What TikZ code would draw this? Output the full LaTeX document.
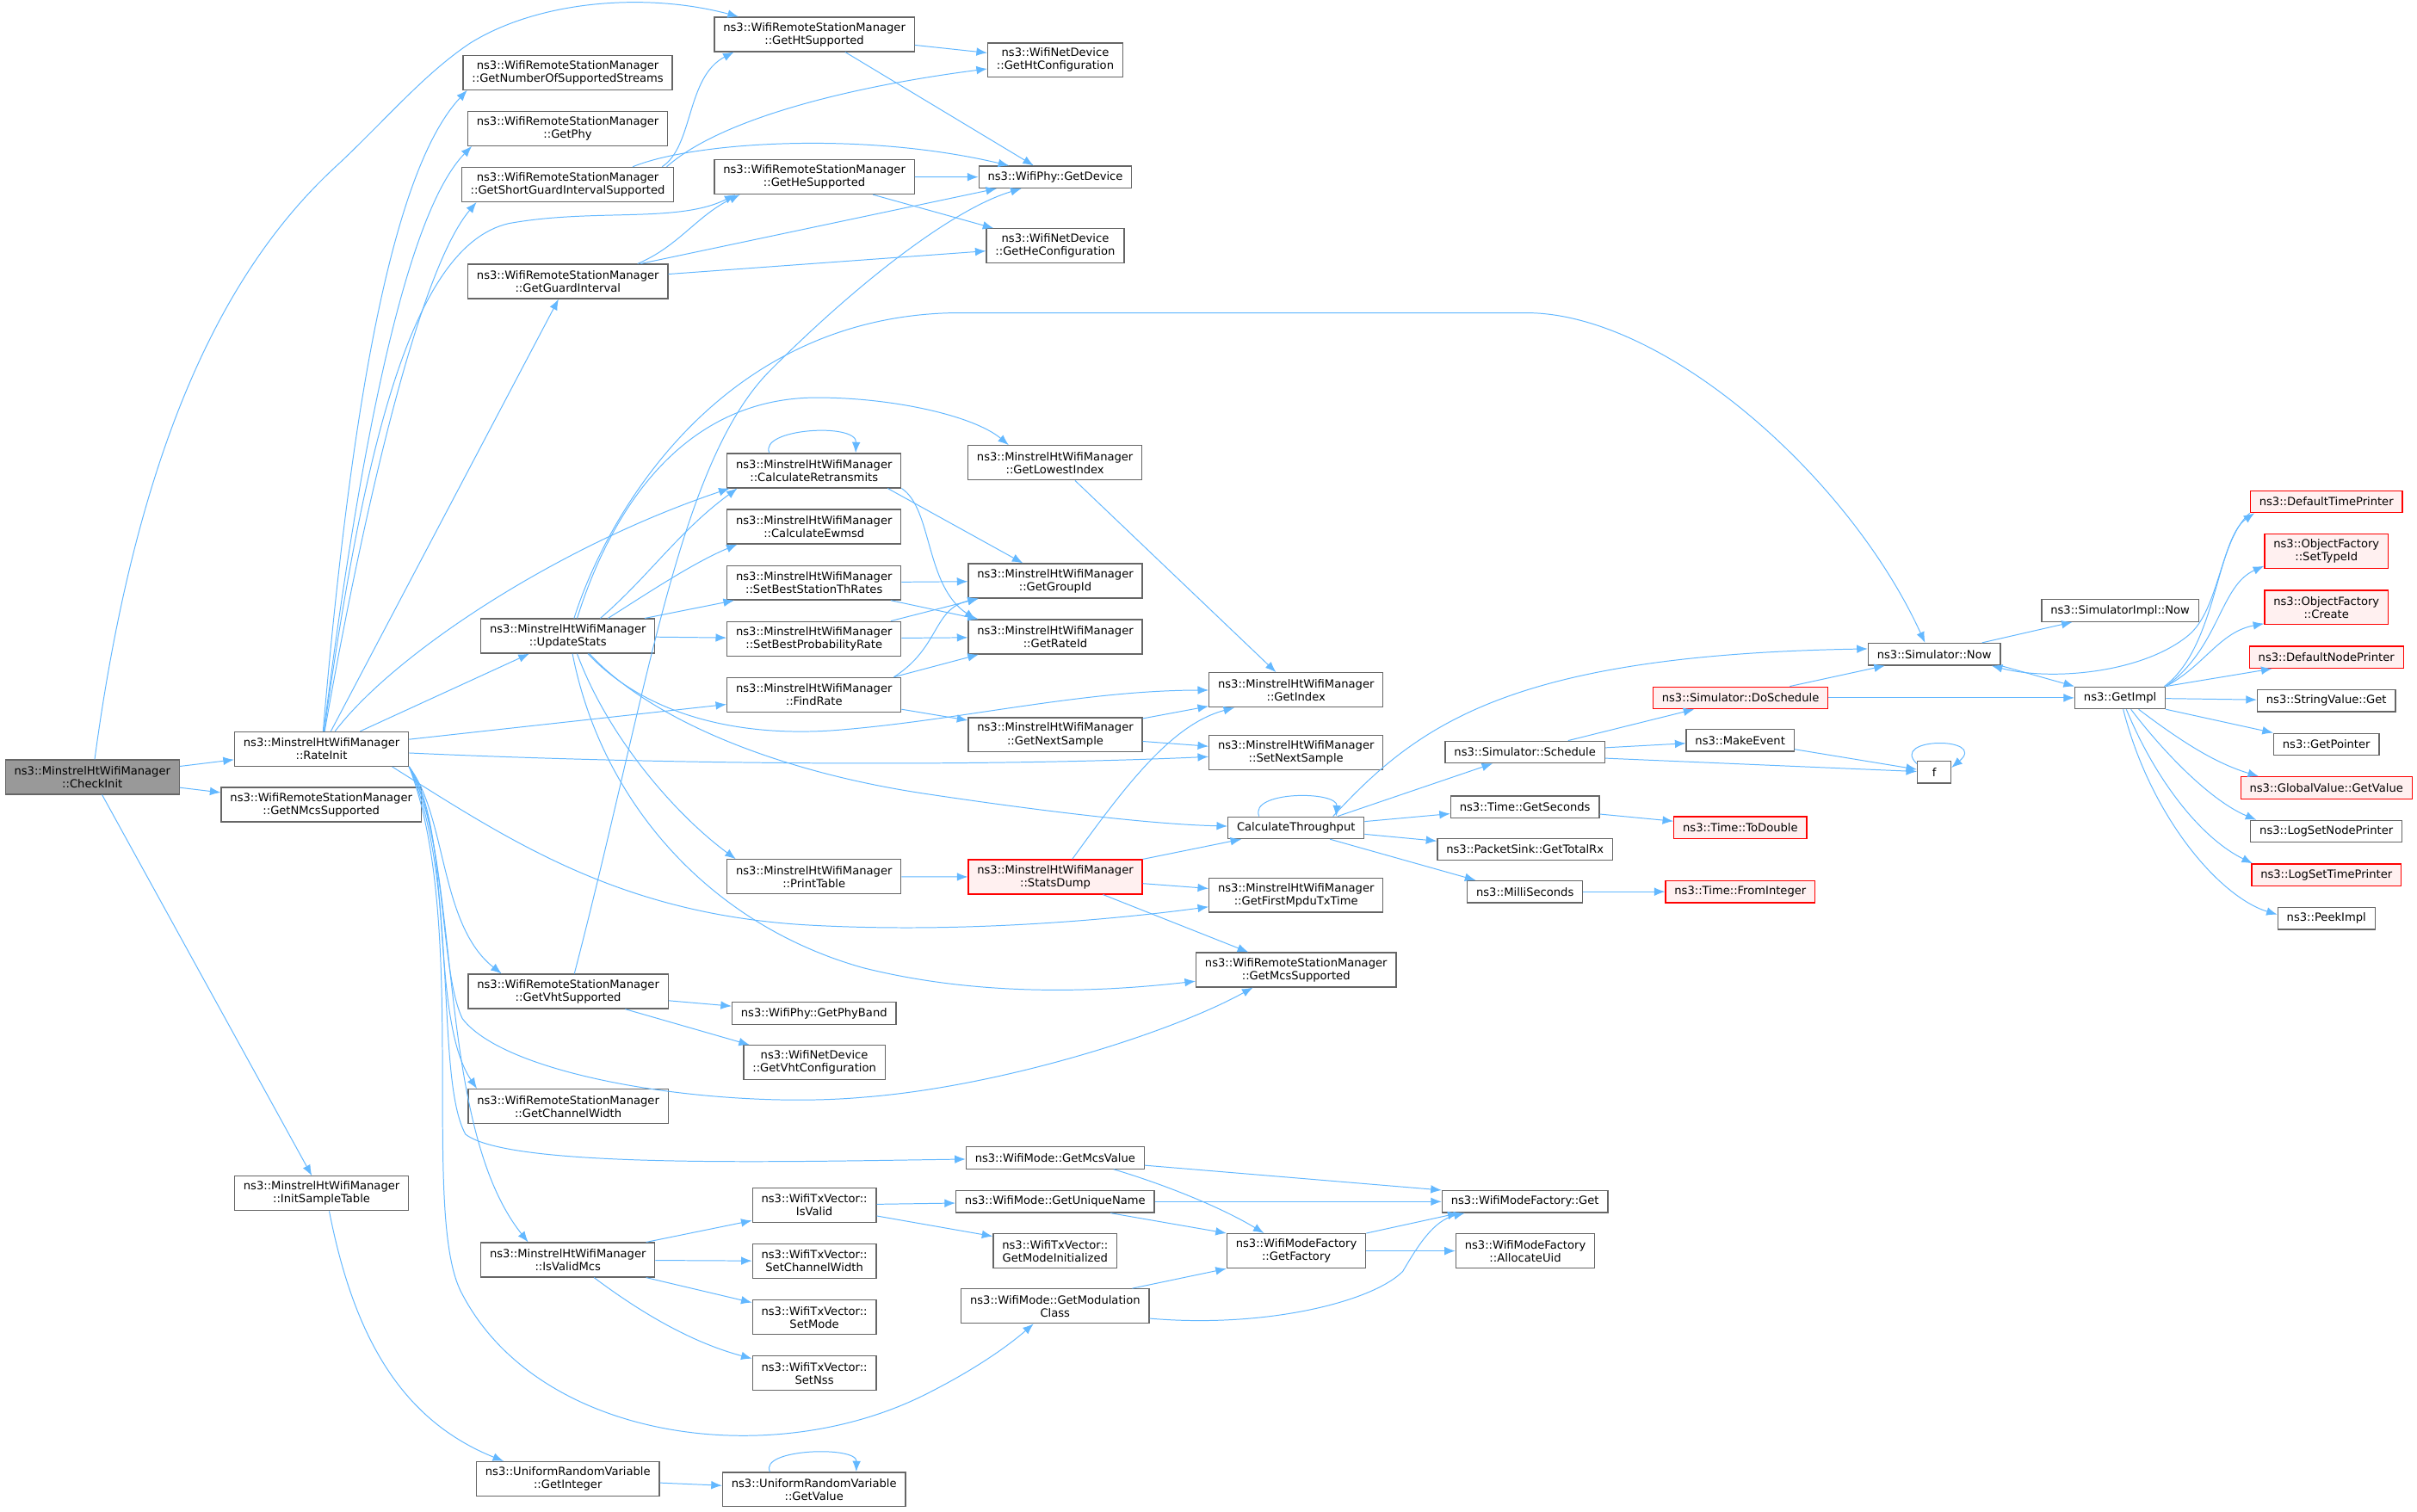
\documentclass[tikz,border=0pt]{standalone}
\usepackage{fontspec}
\setmainfont{DejaVu Sans}
\usetikzlibrary{arrows.meta, positioning}
\definecolor{edgeblue}{RGB}{99,184,255}
\definecolor{boxgray}{RGB}{102,102,102}
\definecolor{rootgray}{RGB}{153,153,153}
\definecolor{redfill}{RGB}{255,240,240}
\tikzstyle{block} = [rectangle, 
			draw = boxgray, 
			line width = 0.7pt, 
			fill = white, 
			align = center, 
			font = \fontsize{7.32}{8.38}\selectfont, 
			inner xsep = 5.8pt, 
			inner ysep = 1pt, 
			minimum height = 14.2pt]
\tikzstyle{twoline} = [minimum height = 22.3pt]
\tikzstyle{redblock} = [block, 
			draw = red, 
			fill = redfill]
\tikzstyle{rootblock} = [block, 
			fill = rootgray]
\tikzstyle{line} = [draw, edgeblue, line width = 0.55pt, -{Latex[length=7pt, width=5.4pt]}]

\begin{document}
\begin{tikzpicture}[x = 1pt, y = 1pt, node distance = 13.35pt, auto]
	\useasboundingbox (0,0) rectangle (1568,-980.6);
	\fill [white] (0,0) rectangle (1568,-980.6);
	\node [rootblock, twoline] (checkInit) at (59.9,-504.2) {ns3::MinstrelHtWifiManager\\::CheckInit};
	\node [block, twoline] (rateInit) at (208.6,-486.0) {ns3::MinstrelHtWifiManager\\::RateInit};
	\node [block, twoline] (getNMcs) at (208.4,-522.1) {ns3::WifiRemoteStationManager\\::GetNMcsSupported};
	\node [block, twoline] (initSample) at (208.6,-774.4) {ns3::MinstrelHtWifiManager\\::InitSampleTable};
	\node [block, twoline] (getHtSupported) at (528.3,-22.3) {ns3::WifiRemoteStationManager\\::GetHtSupported};
	\node [block, twoline] (getNumStreams) at (368.3,-47.0) {ns3::WifiRemoteStationManager\\::GetNumberOfSupportedStreams};
	\node [block, twoline, below=of getNumStreams] (getPhy) {ns3::WifiRemoteStationManager\\::GetPhy};
	\node [block, twoline, below=of getPhy] (shortGI) {ns3::WifiRemoteStationManager\\::GetShortGuardIntervalSupported};
	\node [block, twoline] (getHeSupported) at (528.3,-114.8) {ns3::WifiRemoteStationManager\\::GetHeSupported};
	\node [block, twoline] (getGuardInterval) at (368.4,-182.6) {ns3::WifiRemoteStationManager\\::GetGuardInterval};
	\node [block, twoline] (getHtConfig) at (684.6,-39.0) {ns3::WifiNetDevice\\::GetHtConfiguration};
	\node [block] (getDevice) at (684.6,-114.9) {ns3::WifiPhy::GetDevice};
	\node [block, twoline] (getHeConfig) at (684.6,-159.6) {ns3::WifiNetDevice\\::GetHeConfiguration};
	\node [block, twoline] (calcRetransmits) at (528.1,-305.4) {ns3::MinstrelHtWifiManager\\::CalculateRetransmits};
	\node [block, twoline, below=of calcRetransmits] (calcEwmsd) {ns3::MinstrelHtWifiManager\\::CalculateEwmsd};
	\node [block, twoline, below=of calcEwmsd] (setBestStation) {ns3::MinstrelHtWifiManager\\::SetBestStationThRates};
	\node [block, twoline, below=of setBestStation] (setBestProb) {ns3::MinstrelHtWifiManager\\::SetBestProbabilityRate};
	\node [block, twoline, below=of setBestProb] (findRate) {ns3::MinstrelHtWifiManager\\::FindRate};
	\node [block, twoline] (updateStats) at (368.4,-412.7) {ns3::MinstrelHtWifiManager\\::UpdateStats};
	\node [block, twoline] (getLowestIndex) at (684.4,-300.3) {ns3::MinstrelHtWifiManager\\::GetLowestIndex};
	\node [block, twoline] (getGroupId) at (684.6,-376.9) {ns3::MinstrelHtWifiManager\\::GetGroupId};
	\node [block, twoline, below=of getGroupId] (getRateId) {ns3::MinstrelHtWifiManager\\::GetRateId};
	\node [block, twoline] (getIndex) at (840.8,-447.7) {ns3::MinstrelHtWifiManager\\::GetIndex};
	\node [block, twoline] (getNextSample) at (684.6,-476.8) {ns3::MinstrelHtWifiManager\\::GetNextSample};
	\node [block, twoline] (setNextSample) at (840.8,-488.5) {ns3::MinstrelHtWifiManager\\::SetNextSample};
	\node [block, twoline] (printTable) at (528.1,-568.9) {ns3::MinstrelHtWifiManager\\::PrintTable};
	\node [redblock, twoline] (statsDump) at (684.6,-569.0) {ns3::MinstrelHtWifiManager\\::StatsDump};
	\node [block, twoline] (getFirstMpdu) at (840.8,-580.8) {ns3::MinstrelHtWifiManager\\::GetFirstMpduTxTime};
	\node [block] (calcThroughput) at (840.8,-537.1) {CalculateThroughput};
	\node [block, twoline] (getMcsSupported) at (840.8,-629.3) {ns3::WifiRemoteStationManager\\::GetMcsSupported};
	\node [block, twoline] (getVhtSupported) at (368.6,-643.3) {ns3::WifiRemoteStationManager\\::GetVhtSupported};
	\node [block] (getPhyBand) at (528.1,-657.5) {ns3::WifiPhy::GetPhyBand};
	\node [block, twoline] (getVhtConfig) at (528.3,-689.5) {ns3::WifiNetDevice\\::GetVhtConfiguration};
	\node [block, twoline] (getChannelWidth) at (368.6,-717.9) {ns3::WifiRemoteStationManager\\::GetChannelWidth};
	\node [block] (getMcsValue) at (684.5,-751.3) {ns3::WifiMode::GetMcsValue};
	\node [block, twoline] (isValid) at (528.3,-782.0) {ns3::WifiTxVector::\\IsValid};
	\node [block, twoline, below=of isValid] (setChannelWidth) {ns3::WifiTxVector::\\SetChannelWidth};
	\node [block, twoline, below=of setChannelWidth] (setMode) {ns3::WifiTxVector::\\SetMode};
	\node [block, twoline, below=of setMode] (setNss) {ns3::WifiTxVector::\\SetNss};
	\node [block] (getUniqueName) at (684.5,-779.7) {ns3::WifiMode::GetUniqueName};
	\node [block, twoline] (getModeInit) at (684.5,-811.7) {ns3::WifiTxVector::\\GetModeInitialized};
	\node [block, twoline] (isValidMcs) at (368.4,-817.5) {ns3::MinstrelHtWifiManager\\::IsValidMcs};
	\node [block, twoline] (getModClass) at (684.5,-847.5) {ns3::WifiMode::GetModulation\\Class};
	\node [block] (modeFactoryGet) at (989.3,-779.7) {ns3::WifiModeFactory::Get};
	\node [block, twoline] (getFactory) at (841.0,-811.7) {ns3::WifiModeFactory\\::GetFactory};
	\node [block, twoline] (allocateUid) at (989.5,-811.7) {ns3::WifiModeFactory\\::AllocateUid};
	\node [block, twoline] (getInteger) at (368.4,-959.6) {ns3::UniformRandomVariable\\::GetInteger};
	\node [block, twoline] (getValue) at (528.1,-966.5) {ns3::UniformRandomVariable\\::GetValue};
	\node [block] (schedule) at (989.3,-488.0) {ns3::Simulator::Schedule};
	\node [redblock] (doSchedule) at (1129.1,-452.8) {ns3::Simulator::DoSchedule};
	\node [block] (simNow) at (1254.8,-424.5) {ns3::Simulator::Now};
	\node [block] (simImplNow) at (1375.4,-396.2) {ns3::SimulatorImpl::Now};
	\node [block] (getImpl) at (1375.4,-452.8) {ns3::GetImpl};
	\node [block] (makeEvent) at (1128.9,-480.4) {ns3::MakeEvent};
	\node [block, minimum width = 21.7pt] (f) at (1254.8,-501.1) {f};
	\node [block] (getSeconds) at (989.3,-523.6) {ns3::Time::GetSeconds};
	\node [redblock] (toDouble) at (1129.0,-537.0) {ns3::Time::ToDouble};
	\node [block] (getTotalRx) at (989.3,-551.1) {ns3::PacketSink::GetTotalRx};
	\node [block] (milliSeconds) at (989.3,-578.6) {ns3::MilliSeconds};
	\node [redblock] (fromInteger) at (1129.0,-578.6) {ns3::Time::FromInteger};
	\node [redblock] (defaultTimePrinter) at (1509.2,-325.5) {ns3::DefaultTimePrinter};
	\node [redblock, twoline, below=of defaultTimePrinter] (setTypeId) {ns3::ObjectFactory\\::SetTypeId};
	\node [redblock, twoline, below=of setTypeId] (create) {ns3::ObjectFactory\\::Create};
	\node [redblock, below=of create] (defaultNodePrinter) {ns3::DefaultNodePrinter};
	\node [block, below=of defaultNodePrinter] (stringValueGet) {ns3::StringValue::Get};
	\node [block, below=of stringValueGet] (getPointer) {ns3::GetPointer};
	\node [redblock, below=of getPointer] (globalValue) {ns3::GlobalValue::GetValue};
	\node [block, below=of globalValue] (logSetNodePrinter) {ns3::LogSetNodePrinter};
	\node [redblock, below=of logSetNodePrinter] (logSetTimePrinter) {ns3::LogSetTimePrinter};
	\node [block, below=of logSetTimePrinter] (peekImpl) {ns3::PeekImpl};

	\path [line] (checkInit) -- (rateInit);
	\path [line] (checkInit) -- (getNMcs);
	\path [line] (checkInit) -- (initSample);
	\path [line] (checkInit) .. controls (90,-280) and (150,-170) .. (219,-107) .. controls (250,-78) and (275,-48) .. (305,-28) .. controls (350,0) and (420,5) .. ([xshift=16pt]getHtSupported.north west);

	\path [line] (rateInit) .. controls (228,-260) and (255,-110) .. ([xshift=3pt]getNumStreams.south west);
	\path [line] (rateInit) .. controls (232,-300) and (262,-140) .. ([xshift=3pt]getPhy.south west);
	\path [line] (rateInit) .. controls (236,-330) and (272,-175) .. ([xshift=10pt]shortGI.south west);
	\path [line] (rateInit) .. controls (235,-300) and (265,-160) .. (330,-145) .. controls (385,-135) and (440,-145) .. ([xshift=14pt]getHeSupported.south west);
	\path [line] (rateInit) -- (getGuardInterval);
	\path [line] (rateInit) .. controls (255,-425) and (360,-355) .. ([xshift=2pt]calcRetransmits.south west);
	\path [line] (rateInit) -- (updateStats);
	\path [line] (rateInit) -- (findRate);
	\path [line] (rateInit) .. controls (450,-497) and (650,-497) .. (setNextSample);
	\path [line] ([xshift=-11pt]rateInit.south east) .. controls (330,-545) and (400,-592) .. (520,-600) .. controls (620,-606) and (720,-597) .. (getFirstMpdu);
	\path [line] (rateInit.south east) .. controls (290,-540) and (285,-630) .. (300,-661) .. controls (330,-700) and (470,-720) .. (560,-712) .. controls (650,-705) and (760,-670) .. ([xshift=-28pt]getMcsSupported.south);
	\path [line] (rateInit.south east) .. controls (290,-530) and (285,-600) .. ([xshift=22pt]getVhtSupported.north west);
	\path [line] (rateInit.south east) .. controls (295,-540) and (278,-660) .. ([xshift=6pt]getChannelWidth.north west);
	\path [line] (rateInit.south east) .. controls (300,-560) and (282,-730) .. ([xshift=31pt]isValidMcs.north west);
	\path [line] (rateInit.south east) .. controls (298,-570) and (282,-700) .. (302,-736) .. controls (330,-758) and (500,-754) .. (getMcsValue);
	\path [line] (rateInit.south east) .. controls (305,-600) and (272,-790) .. (300,-840) .. controls (350,-935) and (500,-955) .. (600,-905) .. controls (630,-890) and (652,-875) .. ([xshift=-14pt]getModClass.south);

	\path [line] ([xshift=4pt]updateStats.north) .. controls (395,-330) and (470,-205) .. (620,-203) -- (990,-203) .. controls (1080,-203) and (1200,-310) .. ([xshift=-6pt]simNow.north);
	\path [line] ([xshift=6pt]updateStats.north) .. controls (400,-320) and (450,-258) .. (530,-258) .. controls (580,-258) and (632,-270) .. ([xshift=-30pt]getLowestIndex.north);
	\path [line] ([xshift=21pt]updateStats.north) .. controls (420,-375) and (440,-345) .. ([xshift=7pt]calcRetransmits.south west);
	\path [line] ([xshift=26pt]updateStats.north) .. controls (420,-385) and (450,-365) .. ([xshift=7pt]calcEwmsd.south west);
	\path [line] ([xshift=-7pt]updateStats.north east) -- ([xshift=5pt]setBestStation.south west);
	\path [line] (updateStats) -- (setBestProb);
	\path [line] ([xshift=13pt]updateStats.south) .. controls (420,-465) and (480,-478) .. (540,-474) .. controls (620,-468) and (700,-448) .. (getIndex);
	\path [line] ([xshift=14pt]updateStats.south) .. controls (420,-465) and (500,-500) .. (600,-515) .. controls (680,-527) and (750,-535) .. (calcThroughput);
	\path [line] ([xshift=6pt]updateStats.south) .. controls (395,-480) and (440,-530) .. ([xshift=6pt]printTable.north west);
	\path [line] ([xshift=3pt]updateStats.south) .. controls (390,-520) and (460,-600) .. (560,-628) .. controls (640,-648) and (720,-643) .. (getMcsSupported);

	\path [line] (getHtSupported) -- (getHtConfig);
	\path [line] ([xshift=20pt]getHtSupported.south) -- ([xshift=-14pt]getDevice.north);
	\path [line] ([xshift=-8pt]shortGI.north east) .. controls (450,-95) and (445,-50) .. ([xshift=13pt]getHtSupported.south west);
	\path [line] ([xshift=-5pt]shortGI.north east) .. controls (470,-75) and (560,-55) .. (getHtConfig);
	\path [line] ([xshift=-27pt]shortGI.north east) .. controls (450,-92) and (560,-85) .. ([xshift=-30pt]getDevice.north);
	\path [line] (getHeSupported) -- (getDevice);
	\path [line] ([xshift=38pt]getHeSupported.south) -- ([xshift=-40pt]getHeConfig.north);
	\path [line] ([xshift=-20pt]getGuardInterval.north east) .. controls (440,-160) and (452,-140) .. ([xshift=17pt]getHeSupported.south west);
	\path [line] ([xshift=-18pt]getGuardInterval.north east) -- ([xshift=12pt]getDevice.south west);
	\path [line] (getGuardInterval) -- (getHeConfig);
	\path [line] ([xshift=4pt]getVhtSupported.north) .. controls (420,-450) and (440,-300) .. (500,-240) .. controls (560,-180) and (620,-135) .. ([xshift=-22pt]getDevice.south);
	\path [line] ([yshift=-6pt]getVhtSupported.east) -- (getPhyBand);
	\path [line] ([xshift=37pt]getVhtSupported.south) -- ([xshift=-42pt]getVhtConfig.north);

	\path [line] ([xshift=-29pt]calcRetransmits.north) .. controls (492,-278) and (556,-274) .. ([xshift=27pt]calcRetransmits.north);
	\path [line] ([xshift=-9pt]calcRetransmits.south east) -- ([xshift=-21pt]getGroupId.north);
	\path [line] (calcRetransmits.south east) .. controls (605,-330) and (600,-380) .. ([xshift=5pt]getRateId.north west);
	\path [line] (setBestStation) -- (getGroupId);
	\path [line] ([xshift=-7pt]setBestStation.south east) -- ([xshift=7pt]getRateId.north west);
	\path [line] ([xshift=-7pt]setBestProb.north east) -- ([xshift=7pt]getGroupId.south west);
	\path [line] (setBestProb) -- (getRateId);
	\path [line] ([xshift=-5pt]findRate.north east) .. controls (610,-420) and (605,-395) .. ([xshift=7pt]getGroupId.south west);
	\path [line] ([xshift=-5pt]findRate.north east) -- ([xshift=7pt]getRateId.south west);
	\path [line] (findRate) -- (getNextSample);
	\path [line] ([xshift=13pt]getLowestIndex.south) -- ([xshift=-13pt]getIndex.north);
	\path [line] (getNextSample) -- (getIndex);
	\path [line] (getNextSample) -- (setNextSample);
	\path [line] (printTable) -- (statsDump);
	\path [line] ([xshift=11pt]statsDump.north) .. controls (730,-510) and (760,-470) .. ([xshift=-40pt]getIndex.south);
	\path [line] (statsDump.north east) -- ([xshift=9pt]calcThroughput.south west);
	\path [line] (statsDump) -- (getFirstMpdu);
	\path [line] ([xshift=31pt]statsDump.south) -- ([xshift=-31pt]getMcsSupported.north);

	\path [line] ([xshift=-24pt]calcThroughput.north) .. controls (810,-513) and (868,-513) .. ([xshift=26pt]calcThroughput.north);
	\path [line] ([xshift=24pt]calcThroughput.north) .. controls (920,-470) and (980,-425) .. ([yshift=3.5pt]simNow.west);
	\path [line] ([xshift=27pt]calcThroughput.north) -- ([xshift=-21pt]schedule.south);
	\path [line] (calcThroughput) -- (getSeconds);
	\path [line] (calcThroughput) -- (getTotalRx);
	\path [line] ([xshift=22pt]calcThroughput.south) -- ([xshift=-32pt]milliSeconds.north);
	\path [line] ([xshift=28pt]schedule.north) -- ([xshift=-30pt]doSchedule.south);
	\path [line] (schedule) -- (makeEvent);
	\path [line] ([yshift=-4pt]schedule.east) -- (f);
	\path [line] (makeEvent) -- (f);
	\path [line] ([yshift=-2pt]f.north west) .. controls (1225,-478) and (1290,-478) .. ([yshift=3pt]f.east);
	\path [line] ([xshift=32pt]doSchedule.north) -- ([xshift=-32pt]simNow.south);
	\path [line] (doSchedule) -- (getImpl);
	\path [line] ([xshift=31pt]simNow.north) -- ([xshift=-31pt]simImplNow.south);
	\path [line] (simNow.south east) -- (getImpl.north west);
	\path [line] (defaultTimePrinter.south west) .. controls (1440,-350) and (1440,-395) .. (1420,-412) .. controls (1390,-437) and (1330,-442) .. ([xshift=-6pt]simNow.south east);
	\path [line] ([xshift=-1pt]getImpl.north east) .. controls (1438,-420) and (1438,-350) .. ([xshift=3pt]defaultTimePrinter.south west);
	\path [line] (getImpl.north east) .. controls (1440,-420) and (1440,-380) .. ([yshift=2pt]setTypeId.south west);
	\path [line] (getImpl.north east) .. controls (1430,-432) and (1440,-410) .. ([yshift=1pt]create.south west);
	\path [line] (getImpl.north east) -- ([xshift=15pt]defaultNodePrinter.south west);
	\path [line] (getImpl) -- (stringValueGet);
	\path [line] (getImpl.south east) -- (getPointer.north west);
	\path [line] ([xshift=12pt]getImpl.south) .. controls (1420,-485) and (1440,-496) .. ([xshift=12pt]globalValue.north west);
	\path [line] ([xshift=7pt]getImpl.south) .. controls (1405,-490) and (1435,-520) .. ([xshift=4pt]logSetNodePrinter.north west);
	\path [line] ([xshift=4pt]getImpl.south) .. controls (1400,-510) and (1430,-545) .. ([xshift=1pt]logSetTimePrinter.north west);
	\path [line] ([xshift=2pt]getImpl.south) .. controls (1395,-530) and (1440,-582) .. ([yshift=2.5pt]peekImpl.west);
	\path [line] (getSeconds) -- (toDouble);
	\path [line] (milliSeconds) -- (fromInteger);

	\path [line] (getMcsValue) -- (modeFactoryGet.north west);
	\path [line] ([xshift=38pt]getMcsValue.south) .. controls (760,-770) and (795,-785) .. ([xshift=-21pt]getFactory.north);
	\path [line] (getUniqueName) -- (modeFactoryGet);
	\path [line] ([xshift=36pt]getUniqueName.south) -- (getFactory.north west);
	\path [line] (getFactory.north east) -- ([xshift=11pt]modeFactoryGet.south west);
	\path [line] (getFactory) -- (allocateUid);
	\path [line] ([xshift=50pt]getModClass.north) -- (getFactory.south west);
	\path [line] ([yshift=-8pt]getModClass.east) .. controls (820,-862) and (890,-845) .. (910,-825) .. controls (920,-808) and (930,-792) .. ([xshift=15pt]modeFactoryGet.south west);
	\path [line] (isValid) -- (getUniqueName);
	\path [line] ([yshift=-7pt]isValid.east) -- ([yshift=-2pt]getModeInit.north west);
	\path [line] ([xshift=-6pt]isValidMcs.north east) -- ([yshift=1.5pt]isValid.south west);
	\path [line] (isValidMcs) -- (setChannelWidth);
	\path [line] ([xshift=-6pt]isValidMcs.south east) -- ([yshift=-2pt]setMode.north west);
	\path [line] ([xshift=17pt]isValidMcs.south) .. controls (420,-855) and (452,-872) .. ([yshift=-2pt]setNss.north west);
	\path [line] ([xshift=5pt]initSample.south) .. controls (230,-870) and (262,-922) .. ([xshift=18pt]getInteger.north west);
	\path [line] (getInteger) -- (getValue);
	\path [line] ([xshift=-28.6pt]getValue.north) .. controls (492,-940) and (556,-938) .. ([xshift=27.4pt]getValue.north);
\end{tikzpicture}
\end{document}
